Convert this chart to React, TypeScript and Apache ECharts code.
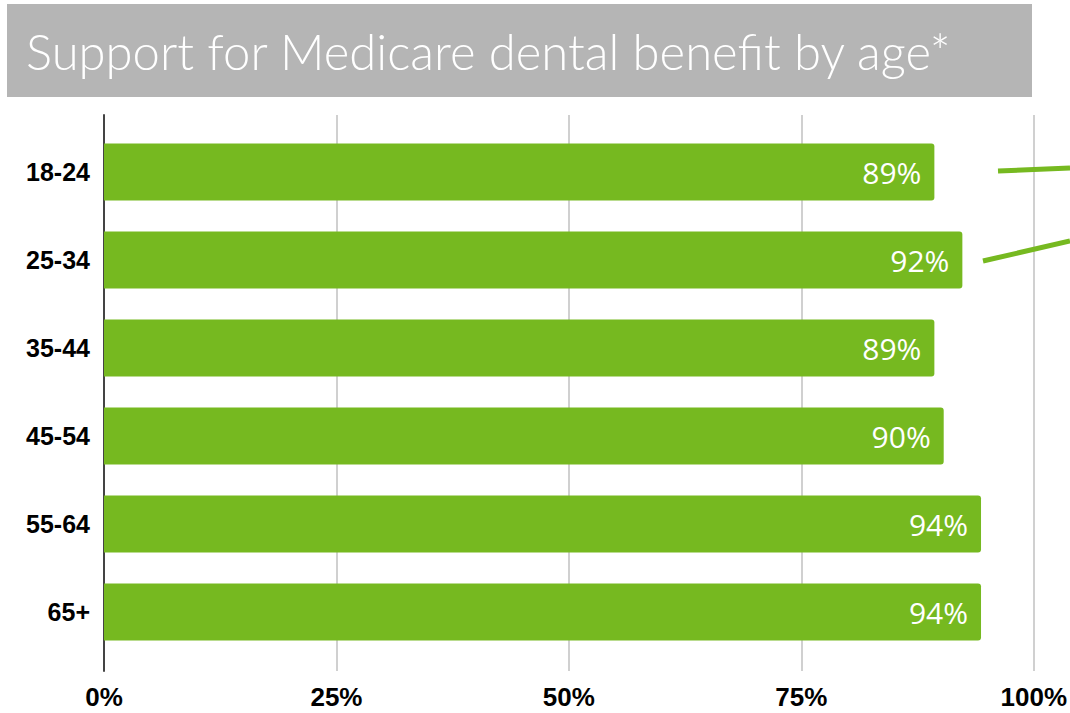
import React, { useEffect, useRef } from "react";
import * as echarts from "echarts";

const title = "Support for Medicare dental benefit by age*";
const categories = ["18-24", "25-34", "35-44", "45-54", "55-64", "65+"];
const values = [89, 92, 89, 90, 94, 94];
const tickValues = [0, 25, 50, 75, 100];

const GREEN = "#76b920";

export default function App() {
  const ref = useRef<HTMLDivElement>(null);
  useEffect(() => {
    if (!ref.current) return;
    const chart = echarts.init(ref.current, undefined, { renderer: "svg" });
    chart.setOption({
      animation: false,
      backgroundColor: "#ffffff",
      grid: [
        { left: 104, right: 33, top: 128, height: 528, containLabel: false },
        { left: 104, right: 33, top: 115, height: 556, containLabel: false },
      ],
      xAxis: [
        {
          gridIndex: 0,
          type: "value",
          min: 0,
          max: 100,
          interval: 25,
          show: false,
        },
        {
          gridIndex: 1,
          type: "value",
          min: 0,
          max: 100,
          interval: 25,
          axisLine: { show: false },
          axisTick: { show: false },
          splitLine: { show: true, lineStyle: { color: "#d0d0d0", width: 2 } },
          axisLabel: {
            margin: 13,
            color: "#000",
            fontFamily: "Liberation Sans, Arial, sans-serif",
            fontWeight: "bold",
            fontSize: 26,
            formatter: (v: number) => (tickValues.includes(v) ? v + "%" : ""),
          },
        },
      ],
      yAxis: [
        {
          gridIndex: 0,
          type: "category",
          data: categories,
          inverse: true,
          axisLine: { show: false },
          axisTick: { show: false },
          axisLabel: {
            margin: 14,
            color: "#000",
            fontFamily: "Liberation Sans, Arial, sans-serif",
            fontWeight: "bold",
            fontSize: 25,
          },
        },
        {
          gridIndex: 1,
          type: "value",
          min: 0,
          max: 1,
          axisLine: { show: true, lineStyle: { color: "#444", width: 2 } },
          axisTick: { show: false },
          axisLabel: { show: false },
          splitLine: { show: false },
        },
      ],
      series: [
        {
          type: "bar",
          xAxisIndex: 0,
          yAxisIndex: 0,
          data: values,
          barWidth: 57,
          itemStyle: { color: GREEN, borderRadius: [0, 3, 3, 0] },
          label: {
            show: true,
            position: "insideRight",
            distance: 13,
            color: "#fff",
            fontFamily: "Open Sans, sans-serif",
            fontWeight: "normal",
            fontSize: 30,
            formatter: (p: any) => p.value + "%",
          },
          z: 3,
        },
      ],
      graphic: [
        {
          type: "rect",
          shape: { x: 7, y: 4, width: 1025, height: 93 },
          style: { fill: "#b5b5b5" },
          z: 1,
        },
        {
          type: "text",
          x: 26,
          y: 51,
          style: {
            text: title,
            fill: "#fff",
            fontFamily: "Lato, Open Sans, sans-serif",
            fontWeight: 300,
            fontSize: 49,
            verticalAlign: "middle",
          },
          z: 2,
        },
        {
          type: "line",
          shape: { x1: 998, y1: 171, x2: 1070, y2: 168 },
          style: { stroke: GREEN, lineWidth: 5 },
          z: 5,
        },
        {
          type: "line",
          shape: { x1: 983, y1: 261, x2: 1070, y2: 241 },
          style: { stroke: GREEN, lineWidth: 5 },
          z: 5,
        },
      ],
    });
    return () => chart.dispose();
  }, []);
  return <div ref={ref} style={{ width: 1070, height: 713, position: "absolute", left: 0, top: 0 }} />;
}
